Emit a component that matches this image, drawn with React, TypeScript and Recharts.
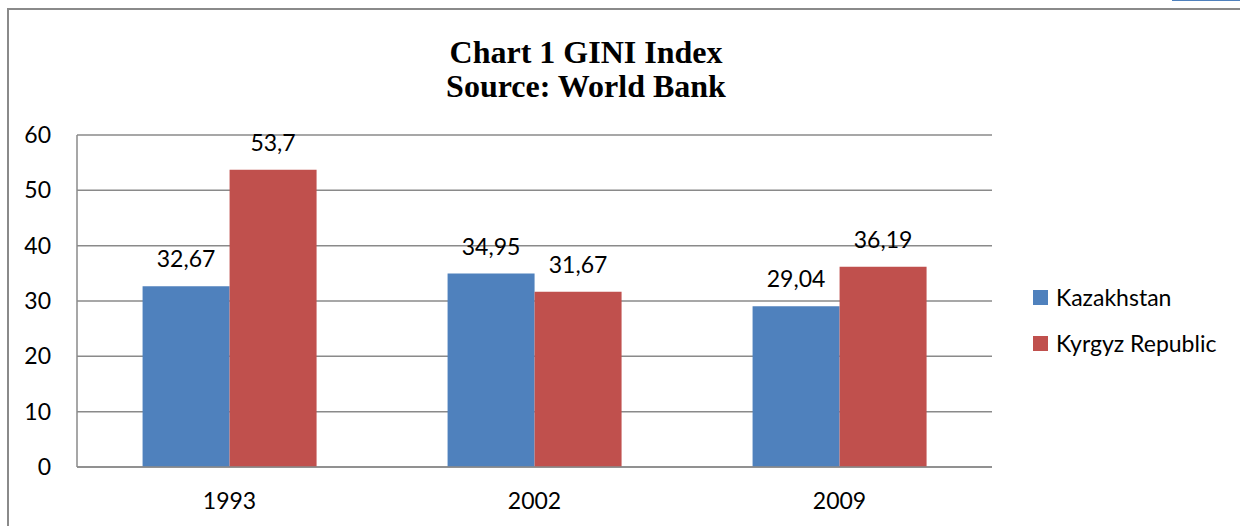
import React from "react";
import { BarChart, Bar, XAxis, YAxis, CartesianGrid, Legend, LabelList } from "recharts";

const years = ["1993", "2002", "2009"];
const kazakhstan = [32.67, 34.95, 29.04];
const kyrgyz = [53.7, 31.67, 36.19];
const yTicks = [0, 10, 20, 30, 40, 50, 60];
const seriesNames = ["Kazakhstan", "Kyrgyz Republic"];
const seriesColors = ["#4F81BD", "#C0504D"];

const data = years.map((y, i) => ({ year: y, kz: kazakhstan[i], kg: kyrgyz[i] }));

const FONT = "Lato, 'Open Sans', sans-serif";
const FS = 23;
const fmt = (v: any) => String(v).replace(".", ",");

const LegendContent = (props: any) => {
  const payload = props.payload || [];
  return (
    <div style={{ fontFamily: FONT, fontSize: FS, color: "#000" }}>
      {payload.map((p: any) => (
        <div key={p.value} style={{ display: "flex", alignItems: "center", height: 46 }}>
          <span style={{ display: "inline-block", width: 15, height: 15, background: p.color, marginRight: 8 }} />
          <span>{p.value}</span>
        </div>
      ))}
    </div>
  );
};

export default function App() {
  return (
    <div style={{ position: "absolute", left: 0, top: 0, width: 1240, height: 526, background: "#fff", overflow: "hidden" }}>
      <div style={{ position: "absolute", left: 7, top: 8, width: 1240, height: 530, borderLeft: "2px solid #8a8a8a", borderTop: "2px solid #8a8a8a" }} />
      <div style={{ position: "absolute", left: 1172, top: 0, width: 68, height: 1, background: "#4F81BD" }} />
      <div style={{ position: "absolute", left: 0, top: 35, width: 1172, textAlign: "center", fontFamily: "'Liberation Serif', 'Times New Roman', serif", fontWeight: "bold", fontSize: 32, lineHeight: "34px", color: "#000" }}>
        <div>Chart 1 GINI Index</div>
        <div>Source: World Bank</div>
      </div>
      <div style={{ position: "absolute", left: 0, top: 0 }}>
        <BarChart width={1240} height={526} data={data} margin={{ top: 135, right: 248, left: 0, bottom: 0 }} barCategoryGap="21.5%" barGap={0}>
          <CartesianGrid vertical={false} stroke="#8a8a8a" strokeWidth={1.5} />
          <XAxis dataKey="year" height={59} tickLine={false} axisLine={{ stroke: "#8a8a8a", strokeWidth: 1.5 }} tick={{ fill: "#000", fontSize: FS, fontFamily: FONT }} tickMargin={20} />
          <YAxis width={77} domain={[0, 60]} ticks={yTicks} tickLine={false} axisLine={{ stroke: "#8a8a8a", strokeWidth: 1.5 }} tick={{ fill: "#000", fontSize: FS, fontFamily: FONT }} tickMargin={20} />
          <Legend layout="vertical" verticalAlign="middle" align="center" content={<LegendContent />}
            wrapperStyle={{ position: "absolute", left: 1033, top: 274, width: 207 }} />
          <Bar dataKey="kz" name={seriesNames[0]} fill={seriesColors[0]} isAnimationActive={false}>
            <LabelList dataKey="kz" position="top" offset={19} formatter={fmt} style={{ fill: "#000", fontSize: FS, fontFamily: FONT }} />
          </Bar>
          <Bar dataKey="kg" name={seriesNames[1]} fill={seriesColors[1]} isAnimationActive={false}>
            <LabelList dataKey="kg" position="top" offset={19} formatter={fmt} style={{ fill: "#000", fontSize: FS, fontFamily: FONT }} />
          </Bar>
        </BarChart>
      </div>
    </div>
  );
}
